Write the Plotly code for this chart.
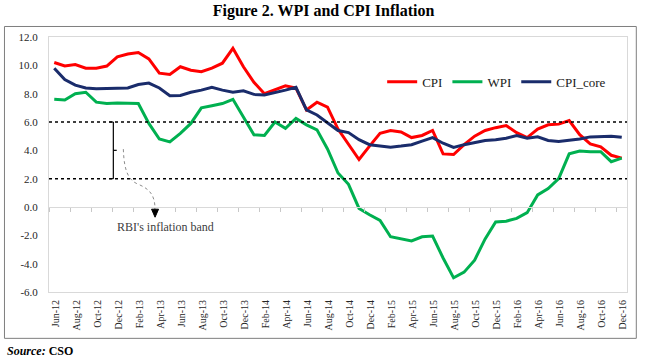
import plotly.graph_objects as go

months = ["Jun-12","Jul-12","Aug-12","Sep-12","Oct-12","Nov-12","Dec-12",
          "Jan-13","Feb-13","Mar-13","Apr-13","May-13","Jun-13","Jul-13","Aug-13","Sep-13","Oct-13","Nov-13","Dec-13",
          "Jan-14","Feb-14","Mar-14","Apr-14","May-14","Jun-14","Jul-14","Aug-14","Sep-14","Oct-14","Nov-14","Dec-14",
          "Jan-15","Feb-15","Mar-15","Apr-15","May-15","Jun-15","Jul-15","Aug-15","Sep-15","Oct-15","Nov-15","Dec-15",
          "Jan-16","Feb-16","Mar-16","Apr-16","May-16","Jun-16","Jul-16","Aug-16","Sep-16","Oct-16","Nov-16","Dec-16"]

cpi = [10.2, 9.95, 10.05, 9.8, 9.8, 9.95, 10.6,
       10.8, 10.9, 10.45, 9.45, 9.35, 9.9, 9.65, 9.55, 9.8, 10.15, 11.2, 9.9,
       8.8, 8.0, 8.3, 8.55, 8.4, 6.85, 7.4, 7.05, 5.5, 4.4, 3.35, 4.3,
       5.2, 5.4, 5.3, 4.9, 5.05, 5.4, 3.75, 3.7, 4.4, 5.0, 5.4, 5.6,
       5.75, 5.25, 4.9, 5.5, 5.8, 5.85, 6.1, 5.1, 4.45, 4.25, 3.65, 3.45]

wpi = [7.6, 7.55, 8.0, 8.1, 7.4, 7.3, 7.35,
       7.35, 7.3, 5.9, 4.8, 4.6, 5.2, 5.9, 7.0, 7.15, 7.3, 7.6, 6.4,
       5.1, 5.05, 6.0, 5.55, 6.25, 5.8, 5.45, 4.1, 2.4, 1.6, -0.1, -0.55,
       -0.95, -2.1, -2.25, -2.4, -2.1, -2.05, -3.6, -5.0, -4.6, -3.75, -2.25, -1.05,
       -1.0, -0.8, -0.4, 0.85, 1.3, 2.0, 3.75, 3.95, 3.9, 3.9, 3.2, 3.45]

cpi_core = [9.8, 9.0, 8.6, 8.4, 8.35, 8.35, 8.35,
            8.4, 8.65, 8.75, 8.4, 7.85, 7.87, 8.1, 8.25, 8.45, 8.25, 8.1, 8.2,
            7.95, 7.9, 8.05, 8.25, 8.45, 6.85, 6.5, 5.95, 5.4, 5.25, 4.75, 4.4,
            4.3, 4.22, 4.3, 4.4, 4.65, 4.9, 4.5, 4.2, 4.4, 4.55, 4.7, 4.75,
            4.85, 5.05, 4.85, 4.95, 4.7, 4.62, 4.7, 4.8, 4.95, 5.0, 5.0, 4.92]

series_names = ["CPI", "WPI", "CPI_core"]
series_colors = ["#FF0000", "#00B050", "#1A2C6B"]

band = [2.0, 6.0]
band_label = "RBI's inflation band"

ytick_vals = [-6, -4, -2, 0, 2, 4, 6, 8, 10, 12]
ytick_text = ["-6.0", "-4.0", "-2.0", "0.0", "2.0", "4.0", "6.0", "8.0", "10.0", "12.0"]

title_text = "Figure 2. WPI and CPI Inflation"
source_text = "<b><i>Source:</i> CSO</b>"

SERIF = "Liberation Serif, Times New Roman, serif"

fig = go.Figure()
for name, vals, col in zip(series_names, [cpi, wpi, cpi_core], series_colors):
    fig.add_trace(go.Scatter(x=months, y=vals, name=name, mode="lines",
                             line=dict(color=col, width=3)))

# dummy trace to activate the tick-mark axis on the zero line
fig.add_trace(go.Scatter(x=[0], y=[None], xaxis="x2", showlegend=False,
                         hoverinfo="skip", mode="lines"))

# plot-area geometry in pixels (for annotation helpers)
L, R, T, B = 49, 626.7, 37, 291.7
W, H = R - L, B - T
def px(x):
    return (x - L) / W
def py(y):
    return (B - y) / H

shapes = []
# band dotted lines
for b in band:
    shapes.append(dict(type="line", xref="paper", yref="y", x0=0, x1=1, y0=b, y1=b,
                       line=dict(color="black", width=1.5, dash="dot")))
# bracket
bx, bl, br = px(113.3), px(109.3), px(116.7)
shapes.append(dict(type="line", xref="paper", yref="y", x0=bx, x1=bx, y0=band[0], y1=band[1],
                   line=dict(color="black", width=1.2)))
for b in band:
    shapes.append(dict(type="line", xref="paper", yref="y", x0=bl, x1=bx, y0=b, y1=b,
                       line=dict(color="black", width=1.2)))
shapes.append(dict(type="line", xref="paper", yref="y", x0=bx, x1=br,
                   y0=(band[0] + band[1]) / 2, y1=(band[0] + band[1]) / 2,
                   line=dict(color="black", width=1.2)))
# curved dotted pointer
path = (f"M {px(123.3)},{py(149)} C {px(124)},{py(170)} {px(128)},{py(180)} {px(138)},{py(184)} "
        f"C {px(150)},{py(189)} {px(155)},{py(195)} {px(155)},{py(210)}")
shapes.append(dict(type="path", xref="paper", yref="paper", path=path,
                   line=dict(color="#8c8c8c", width=1, dash="dot")))
head = f"M {px(155)},{py(217)} L {px(151.5)},{py(209)} L {px(158.5)},{py(209)} Z"
shapes.append(dict(type="path", xref="paper", yref="paper", path=head,
                   fillcolor="black", line=dict(color="black", width=1)))
# outer frame
shapes.append(dict(type="rect", xref="paper", yref="paper",
                   x0=px(4.5), x1=px(636), y0=py(338), y1=py(26.5),
                   line=dict(color="#7f7f7f", width=1), layer="below"))

annotations = [
    dict(text=band_label, xref="paper", yref="paper", x=px(165), y=py(227),
         xanchor="center", yanchor="middle", showarrow=False,
         font=dict(family=SERIF, size=12, color="#404040")),
    dict(text=source_text, xref="paper", yref="paper", x=px(5), y=py(351),
         xanchor="left", yanchor="middle", showarrow=False,
         font=dict(family=SERIF, size=12, color="black")),
]

fig.update_layout(
    width=647, height=361,
    margin=dict(l=L, r=647 - R, t=T, b=361 - B),
    paper_bgcolor="white", plot_bgcolor="white",
    title=dict(text=f"<b>{title_text}</b>", x=0.5, xref="container", xanchor="center",
               y=1 - 10.5 / 361, yref="container", yanchor="middle",
               font=dict(family=SERIF, size=16, color="black")),
    showlegend=True,
    legend=dict(orientation="h", x=px(382), y=py(81.7), xanchor="left", yanchor="middle",
                bgcolor="rgba(0,0,0,0)", font=dict(family=SERIF, size=13, color="#1a1a1a"),
                itemclick=False),
    xaxis=dict(type="category", categoryorder="array", categoryarray=months,
               range=[-0.5, len(months) - 0.5],
               tickvals=months[::2], ticktext=months[::2], tickangle=-90,
               tickfont=dict(family=SERIF, size=10, color="#262626"),
               ticks="", showgrid=False, zeroline=False,
               showline=True, linecolor="#d9d9d9", linewidth=1, mirror=True,
               ticklabelstandoff=3, ticklabelshift=1),
    xaxis2=dict(type="linear", overlaying="x", anchor="free", position=(0 - (-6)) / 18,
                range=[-0.5, len(months) - 0.5],
                tickvals=[k - 0.5 for k in range(0, len(months) + 1, 2)],
                ticks="outside", ticklen=4, tickcolor="#c8c8c8", showticklabels=False,
                showgrid=False, zeroline=False, showline=True, linecolor="#d9d9d9", linewidth=1),
    yaxis=dict(range=[-6, 12], tickvals=ytick_vals, ticktext=ytick_text,
               tickfont=dict(family=SERIF, size=11, color="#262626"),
               ticks="", showgrid=False, zeroline=False,
               showline=True, linecolor="#d9d9d9", linewidth=1, mirror=True,
               ticklabelstandoff=8),
    shapes=shapes,
    annotations=annotations,
)

fig.write_html("out.html", config=dict(displayModeBar=False),
               post_script="document.body.style.margin='0px';document.body.style.overflow='hidden';")
